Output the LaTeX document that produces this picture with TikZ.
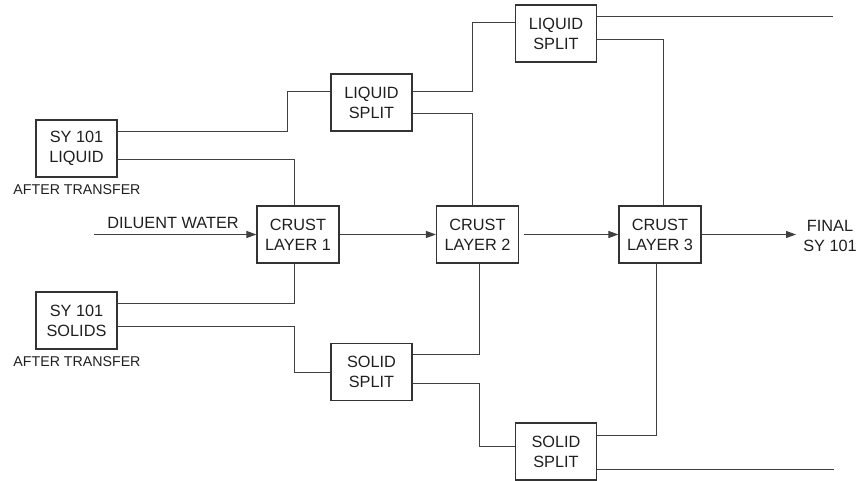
\documentclass[tikz,border=0pt]{standalone}
\usepackage{fontspec}
\setmainfont{Liberation Sans}
\usetikzlibrary{arrows.meta}
\begin{document}
\begin{tikzpicture}[x=1pt,y=-1pt,
  box/.style={draw=black!80,line width=1.1pt,minimum width=81pt,minimum height=57pt,
    inner sep=0pt,align=center,text=black!88,font=\fontsize{16.3}{20}\selectfont},
  flow/.style={draw=black!75,line width=1pt},
  feed/.style={flow,-{Triangle[length=10pt,width=7pt]}},
  lbl/.style={text=black!88,font=\fontsize{16.3}{20}\selectfont,align=center,inner sep=0pt},
  note/.style={text=black!88,font=\fontsize{14.2}{17}\selectfont,inner sep=0pt}]
\useasboundingbox (0,0) rectangle (867,481);

% source tanks
\node[box] (liq) at (76.5,148.5) {SY 101\\LIQUID};
\node[note] (liqnote) at (77,190) {AFTER TRANSFER};
\node[box] (sol) at (76.5,320.5) {SY 101\\SOLIDS};
\node[note] (solnote) at (77,362) {AFTER TRANSFER};

% crust layers
\node[box,minimum width=82pt] (c1) at (298,234.5) {CRUST\\LAYER 1};
\node[box,minimum width=82pt] (c2) at (477.5,234.5) {CRUST\\LAYER 2};
\node[box,minimum width=82pt] (c3) at (660,234.5) {CRUST\\LAYER 3};

% splitters
\node[box] (ls1) at (371.5,102.5) {LIQUID\\SPLIT};
\node[box] (ls2) at (556,33.5) {LIQUID\\SPLIT};
\node[box] (ss1) at (371.5,372) {SOLID\\SPLIT};
\node[box] (ss2) at (556,451.5) {SOLID\\SPLIT};

% free labels
\node[lbl] (dil) at (173,222.5) {DILUENT WATER};
\node[lbl] (fin) at (830,235.7) {FINAL\\SY 101};

% free line ends
\coordinate (dilin) at (94,234.5);
\coordinate (finin) at (796,234.5);
\coordinate (topout) at (833,16.7);
\coordinate (botout) at (834,469);

% main flow
\draw[feed] (dilin) -- (c1.west);
\draw[feed] (c1.east) -- (c2.west);
\draw[feed,shorten <=4.5pt] (c2.east) -- (c3.west);
\draw[feed] (c3.east) -- (finin);

% feeds from the tanks
\draw[flow] ([yshift=17pt]liq.east) -- ++(170,0) |- ([yshift=10.5pt]ls1.west);
\draw[flow] ([yshift=-11.5pt]liq.east) -| ([xshift=-4pt]c1.north);
\draw[flow] ([yshift=17.5pt]sol.east) -| ([xshift=-4pt]c1.south);
\draw[flow] ([yshift=-5.5pt]sol.east) -- ++(177,0) |- (ss1.west);

% liquid side
\draw[flow] ([yshift=10.5pt]ls1.east) -- ++(60,0) |- ([yshift=10.5pt]ls2.west);
\draw[flow] ([yshift=-11.5pt]ls1.east) -| ([xshift=-5.5pt]c2.north);
\draw[flow] ([yshift=16.8pt]ls2.east) -- (topout);
\draw[flow] ([yshift=-6.5pt]ls2.east) -| ([xshift=3pt]c3.north);

% solid side
\draw[flow] ([yshift=17.7pt]ss1.east) -| ([xshift=1.5pt]c2.south);
\draw[flow] ([yshift=-11pt]ss1.east) -- ++(67,0) |- ([yshift=5.5pt]ss2.west);
\draw[flow] ([yshift=16.5pt]ss2.east) -| ([xshift=-4pt]c3.south);
\draw[flow] ([yshift=-17.5pt]ss2.east) -- (botout);
\end{tikzpicture}
\end{document}
